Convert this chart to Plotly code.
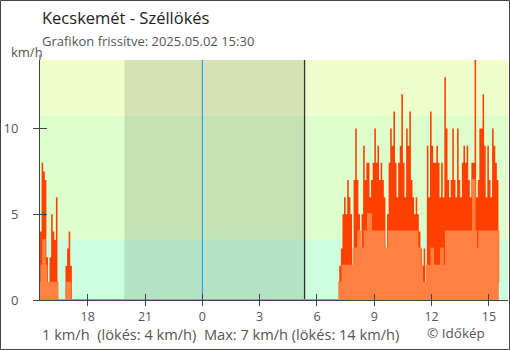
import pandas as pd
import plotly.graph_objects as go

# ---- labels -------------------------------------------------------------
title_text = "Kecskemét - Széllökés"
subtitle_text = "Grafikon frissítve: 2025.05.02 15:30"
unit_text = "km/h"
credit_text = "© Időkép"

# ---- 5-minute readings (km/h) -----------------------------------------------
evening_start = "2025-05-01 15:30"
evening_gust = [4, 8, 7.5, 7, 2.5, 0, 2.5, 5, 4, 3.5, 6, 0, 0, 0, 0, 0, 2, 3, 4, 2]
evening_wind = [1, 2, 3.5, 2, 1, 0, 1, 1, 1, 1, 1, 0, 0, 0, 0, 0, 0, 1, 1, 0]

day_start = "2025-05-02 07:10"
day_gust = [
    2, 3, 5, 6, 5, 7, 6, 5, 2, 7,
    10, 7, 5, 3, 5, 9, 7, 8, 8, 6,
    7, 8, 10, 8, 9, 7, 8, 7, 6, 3,
    5, 8, 10, 9, 11, 8, 6, 8, 9, 12,
    8, 6, 10, 9, 11, 7, 6, 5, 6, 5,
    4, 3, 2, 3, 0, 9, 6, 11, 9, 8,
    8, 9, 8, 6, 8, 6, 13, 10, 7, 6,
    7, 10, 7, 6, 10, 7, 6, 8, 9, 8,
    9, 7, 6, 8, 8, 14, 6, 7, 10, 10,
    12, 9, 6, 9, 7, 6, 10, 9, 8, 7,
    4,
]
day_wind = [
    1, 1, 2, 2, 2, 2, 2, 2, 1, 3,
    3, 3, 4, 3, 3, 3, 4, 3, 5, 5,
    4, 4, 4, 3, 4, 4, 4, 4, 3, 2,
    3, 4, 4, 4, 4, 4, 3, 4, 4, 4,
    4, 3, 4, 4, 4, 4, 4, 3, 4, 2,
    3, 2, 1, 1, 0, 2, 2, 2, 3, 2,
    2, 2, 2, 2, 3, 2, 2, 4, 4, 4,
    4, 4, 3, 4, 4, 4, 4, 4, 3, 4,
    4, 4, 3, 4, 7, 4, 2, 3, 4, 4,
    4, 4, 3, 4, 4, 3, 4, 4, 4, 4,
    1,
]

# ---- time markers ---------------------------------------------------------
view_start = "2025-05-01 15:30"
view_end = "2025-05-02 16:00"
series_end = "2025-05-02 15:30"
sunset = "2025-05-01 19:55"
sunrise = "2025-05-02 05:21"
midnight = "2025-05-02 00:00"

# wind bands (km/h) and their colours
band_edges = [0, 3.55, 10.75, 14]
band_colors = ["#ccffdd", "#ddffcc", "#eeffcc"]

gust_color = "#ff4000"
wind_color = "#ff8040"
text_color = "#555555"
axis_color = "#444444"

# ---- assemble the full 24 h series ---------------------------------------------
idx = pd.date_range(view_start, series_end, freq="5min")
gust = pd.Series(0.0, index=idx)
wind = pd.Series(0.0, index=idx)
for start, g, w in [(evening_start, evening_gust, evening_wind),
                    (day_start, day_gust, day_wind)]:
    t = pd.date_range(start, periods=len(g), freq="5min")
    gust.loc[t] = g
    wind.loc[t] = w

fmt = lambda v: f"{v:g}"
summary = (f"{fmt(wind.iloc[-1])} km/h&nbsp;&nbsp;(lökés: {fmt(gust.iloc[-1])} km/h)&nbsp;&nbsp;"
           f"Max: {fmt(wind.max())} km/h (lökés: {fmt(gust.max())} km/h)")

fig = go.Figure()
fig.add_trace(go.Scatter(
    x=idx, y=gust.values, mode="lines", line=dict(shape="hv", width=0, color=gust_color),
    fill="tozeroy", fillcolor=gust_color, hoverinfo="skip", showlegend=False))
fig.add_trace(go.Scatter(
    x=idx, y=wind.values, mode="lines", line=dict(shape="hv", width=2, color=wind_color),
    fill="tozeroy", fillcolor=wind_color, hoverinfo="skip", showlegend=False))

shapes = []
for lo, hi, c in zip(band_edges[:-1], band_edges[1:], band_colors):
    shapes.append(dict(type="rect", xref="paper", yref="y", x0=0, x1=1, y0=lo, y1=hi,
                       fillcolor=c, line_width=0, layer="below"))
shapes.append(dict(type="rect", xref="x", yref="paper", x0=sunset, x1=sunrise, y0=0, y1=1,
                   fillcolor="rgba(0,0,0,0.11)", line_width=0, layer="below"))
shapes.append(dict(type="line", xref="x", yref="paper", x0=midnight, x1=midnight, y0=0, y1=1,
                   line=dict(color="#1e90ff", width=1), layer="below"))
shapes.append(dict(type="line", xref="x", yref="paper", x0=sunrise, x1=sunrise, y0=0, y1=1,
                   line=dict(color="#333333", width=1.3), layer="below"))

# outer frame of the figure
W, H = 510, 350
L, R, T, B = 40, 2, 60, 50
pw, ph = W - L - R, H - T - B
px = lambda v: (v - L) / pw
py = lambda v: (H - B - v) / ph
shapes.append(dict(type="rect", xref="paper", yref="paper",
                   x0=px(0.5), x1=px(W - 0.5), y0=py(H - 0.5), y1=py(0.5),
                   line=dict(color="#444444", width=1), fillcolor="rgba(0,0,0,0)"))
# y axis line reaches a little above the plot area
shapes.append(dict(type="line", xref="paper", yref="paper", x0=0, x1=0, y0=1, y1=py(55),
                   line=dict(color=axis_color, width=1)))

font_family = "Open Sans"
annotations = [
    dict(text=title_text, x=px(40), y=py(18), xref="paper", yref="paper", xanchor="left",
         yanchor="middle", showarrow=False, font=dict(size=16.5, color="#222222", family=font_family)),
    dict(text=subtitle_text, x=px(40), y=py(41), xref="paper", yref="paper", xanchor="left",
         yanchor="middle", showarrow=False, font=dict(size=13, color=text_color, family=font_family)),
    dict(text=unit_text, x=px(27), y=py(52), xref="paper", yref="paper", xanchor="center",
         yanchor="middle", showarrow=False, font=dict(size=13, color=text_color, family=font_family)),
    dict(text=summary, x=px(40), y=py(334), xref="paper", yref="paper", xanchor="left",
         yanchor="middle", showarrow=False, font=dict(size=14.6, color=text_color, family=font_family)),
    dict(text=credit_text, x=px(425), y=py(333), xref="paper", yref="paper", xanchor="left",
         yanchor="middle", showarrow=False, font=dict(size=13.5, color=text_color, family=font_family)),
]

common_x = dict(type="date", range=[view_start, view_end], dtick=3 * 3600 * 1000,
                tick0="2025-05-01 00:00", tickformat="%-H", showgrid=False, zeroline=False)
common_y = dict(range=[0, 14], tickvals=[0, 5, 10], showgrid=False, zeroline=False)

fig.update_layout(
    width=W, height=H, margin=dict(l=L, r=R, t=T, b=B),
    paper_bgcolor="white", plot_bgcolor="white",
    shapes=shapes, annotations=annotations,
    xaxis=dict(**common_x, showline=True, linecolor=axis_color, linewidth=1,
               ticks="outside", ticklen=5, tickcolor=axis_color,
               tickfont=dict(size=12.5, color=text_color, family=font_family),
               ticklabelstandoff=0),
    xaxis2=dict(**common_x, overlaying="x", anchor="y", side="bottom", showline=False,
                ticks="inside", ticklen=6, tickcolor=axis_color, showticklabels=False),
    yaxis=dict(**common_y, showline=True, linecolor=axis_color, linewidth=1,
               ticks="outside", ticklen=6, tickcolor=axis_color,
               tickfont=dict(size=13, color=text_color, family=font_family),
               ticklabelstandoff=12),
    yaxis2=dict(**common_y, overlaying="y", anchor="x", side="left", showline=False,
                ticks="inside", ticklen=7, tickcolor=axis_color, showticklabels=False),
)
# a blank trace so the overlay axes get drawn
fig.add_trace(go.Scatter(x=[view_start], y=[0], xaxis="x2", yaxis="y2", mode="markers",
                         marker=dict(opacity=0), hoverinfo="skip", showlegend=False))

fig.write_html("out.html")
